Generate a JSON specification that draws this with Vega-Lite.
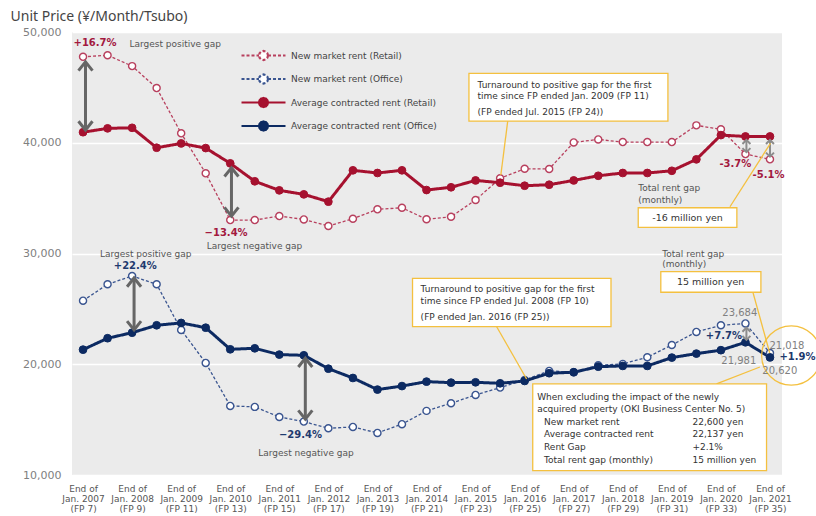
{
  "$schema": "https://vega.github.io/schema/vega-lite/v6.json",
  "width": 710,
  "height": 443,
  "autosize": {"type": "none"},
  "padding": {"left": 72, "top": 32, "right": 34, "bottom": 41},
  "background": "white",
  "config": {
    "font": "DejaVu Sans",
    "view": {"fill": "#ebebeb", "stroke": null},
    "axis": {"domain": false, "ticks": false}
  },
  "datasets": {
    "rent": [
      {"fp":7,"series":"New market rent (Retail)","value":47760},{"fp":8,"series":"New market rent (Retail)","value":47900},{"fp":9,"series":"New market rent (Retail)","value":46920},{"fp":10,"series":"New market rent (Retail)","value":44940},{"fp":11,"series":"New market rent (Retail)","value":40850},{"fp":12,"series":"New market rent (Retail)","value":37240},{"fp":13,"series":"New market rent (Retail)","value":33020},{"fp":14,"series":"New market rent (Retail)","value":33020},{"fp":15,"series":"New market rent (Retail)","value":33380},{"fp":16,"series":"New market rent (Retail)","value":33080},{"fp":17,"series":"New market rent (Retail)","value":32480},{"fp":18,"series":"New market rent (Retail)","value":33140},{"fp":19,"series":"New market rent (Retail)","value":33990},{"fp":20,"series":"New market rent (Retail)","value":34130},{"fp":21,"series":"New market rent (Retail)","value":33090},{"fp":22,"series":"New market rent (Retail)","value":33320},{"fp":23,"series":"New market rent (Retail)","value":34830},{"fp":24,"series":"New market rent (Retail)","value":36790},{"fp":25,"series":"New market rent (Retail)","value":37650},{"fp":26,"series":"New market rent (Retail)","value":37630},{"fp":27,"series":"New market rent (Retail)","value":40030},{"fp":28,"series":"New market rent (Retail)","value":40300},{"fp":29,"series":"New market rent (Retail)","value":40060},{"fp":30,"series":"New market rent (Retail)","value":40060},{"fp":31,"series":"New market rent (Retail)","value":40060},{"fp":32,"series":"New market rent (Retail)","value":41570},{"fp":33,"series":"New market rent (Retail)","value":41210},{"fp":34,"series":"New market rent (Retail)","value":38980},{"fp":35,"series":"New market rent (Retail)","value":38500},
      {"fp":7,"series":"New market rent (Office)","value":25740},{"fp":8,"series":"New market rent (Office)","value":27220},{"fp":9,"series":"New market rent (Office)","value":27970},{"fp":10,"series":"New market rent (Office)","value":27220},{"fp":11,"series":"New market rent (Office)","value":23100},{"fp":12,"series":"New market rent (Office)","value":20120},{"fp":13,"series":"New market rent (Office)","value":16240},{"fp":14,"series":"New market rent (Office)","value":16150},{"fp":15,"series":"New market rent (Office)","value":15240},{"fp":16,"series":"New market rent (Office)","value":14820},{"fp":17,"series":"New market rent (Office)","value":14220},{"fp":18,"series":"New market rent (Office)","value":14340},{"fp":19,"series":"New market rent (Office)","value":13800},{"fp":20,"series":"New market rent (Office)","value":14590},{"fp":21,"series":"New market rent (Office)","value":15790},{"fp":22,"series":"New market rent (Office)","value":16480},{"fp":23,"series":"New market rent (Office)","value":17230},{"fp":24,"series":"New market rent (Office)","value":17890},{"fp":25,"series":"New market rent (Office)","value":18580},{"fp":26,"series":"New market rent (Office)","value":19400},{"fp":27,"series":"New market rent (Office)","value":19280},{"fp":28,"series":"New market rent (Office)","value":19910},{"fp":29,"series":"New market rent (Office)","value":20030},{"fp":30,"series":"New market rent (Office)","value":20630},{"fp":31,"series":"New market rent (Office)","value":21740},{"fp":32,"series":"New market rent (Office)","value":22920},{"fp":33,"series":"New market rent (Office)","value":23520},{"fp":34,"series":"New market rent (Office)","value":23684},{"fp":35,"series":"New market rent (Office)","value":21018},
      {"fp":7,"series":"Average contracted rent (Retail)","value":40950},{"fp":8,"series":"Average contracted rent (Retail)","value":41300},{"fp":9,"series":"Average contracted rent (Retail)","value":41350},{"fp":10,"series":"Average contracted rent (Retail)","value":39550},{"fp":11,"series":"Average contracted rent (Retail)","value":39940},{"fp":12,"series":"Average contracted rent (Retail)","value":39520},{"fp":13,"series":"Average contracted rent (Retail)","value":38140},{"fp":14,"series":"Average contracted rent (Retail)","value":36520},{"fp":15,"series":"Average contracted rent (Retail)","value":35700},{"fp":16,"series":"Average contracted rent (Retail)","value":35340},{"fp":17,"series":"Average contracted rent (Retail)","value":34680},{"fp":18,"series":"Average contracted rent (Retail)","value":37510},{"fp":19,"series":"Average contracted rent (Retail)","value":37270},{"fp":20,"series":"Average contracted rent (Retail)","value":37510},{"fp":21,"series":"Average contracted rent (Retail)","value":35730},{"fp":22,"series":"Average contracted rent (Retail)","value":35980},{"fp":23,"series":"Average contracted rent (Retail)","value":36600},{"fp":24,"series":"Average contracted rent (Retail)","value":36390},{"fp":25,"series":"Average contracted rent (Retail)","value":36120},{"fp":26,"series":"Average contracted rent (Retail)","value":36210},{"fp":27,"series":"Average contracted rent (Retail)","value":36600},{"fp":28,"series":"Average contracted rent (Retail)","value":37020},{"fp":29,"series":"Average contracted rent (Retail)","value":37270},{"fp":30,"series":"Average contracted rent (Retail)","value":37270},{"fp":31,"series":"Average contracted rent (Retail)","value":37470},{"fp":32,"series":"Average contracted rent (Retail)","value":38500},{"fp":33,"series":"Average contracted rent (Retail)","value":40690},{"fp":34,"series":"Average contracted rent (Retail)","value":40570},{"fp":35,"series":"Average contracted rent (Retail)","value":40570},
      {"fp":7,"series":"Average contracted rent (Office)","value":21320},{"fp":8,"series":"Average contracted rent (Office)","value":22350},{"fp":9,"series":"Average contracted rent (Office)","value":22850},{"fp":10,"series":"Average contracted rent (Office)","value":23520},{"fp":11,"series":"Average contracted rent (Office)","value":23730},{"fp":12,"series":"Average contracted rent (Office)","value":23300},{"fp":13,"series":"Average contracted rent (Office)","value":21350},{"fp":14,"series":"Average contracted rent (Office)","value":21440},{"fp":15,"series":"Average contracted rent (Office)","value":20870},{"fp":16,"series":"Average contracted rent (Office)","value":20810},{"fp":17,"series":"Average contracted rent (Office)","value":19600},{"fp":18,"series":"Average contracted rent (Office)","value":18760},{"fp":19,"series":"Average contracted rent (Office)","value":17710},{"fp":20,"series":"Average contracted rent (Office)","value":18030},{"fp":21,"series":"Average contracted rent (Office)","value":18430},{"fp":22,"series":"Average contracted rent (Office)","value":18340},{"fp":23,"series":"Average contracted rent (Office)","value":18370},{"fp":24,"series":"Average contracted rent (Office)","value":18280},{"fp":25,"series":"Average contracted rent (Office)","value":18490},{"fp":26,"series":"Average contracted rent (Office)","value":19190},{"fp":27,"series":"Average contracted rent (Office)","value":19280},{"fp":28,"series":"Average contracted rent (Office)","value":19780},{"fp":29,"series":"Average contracted rent (Office)","value":19850},{"fp":30,"series":"Average contracted rent (Office)","value":19850},{"fp":31,"series":"Average contracted rent (Office)","value":20600},{"fp":32,"series":"Average contracted rent (Office)","value":20960},{"fp":33,"series":"Average contracted rent (Office)","value":21270},{"fp":34,"series":"Average contracted rent (Office)","value":21981},{"fp":35,"series":"Average contracted rent (Office)","value":20620}
    ],
    "arrowsBig": [
      {"fp":7.1,"top":47300,"bot":41150},{"fp":13.05,"top":37740,"bot":33380},{"fp":9.08,"top":27790,"bot":23100},{"fp":16.06,"top":20540,"bot":15040}
    ],
    "arrowsSmall": [
      {"fp":34.04,"top":40250,"bot":39150},{"fp":35.0,"top":40250,"bot":38750},{"fp":34.04,"top":23300,"bot":22200}
    ],
    "boxes": [
      {"x1":22.73,"x2":30.84,"y1":46260,"y2":41960},
      {"x1":29.63,"x2":33.65,"y1":34130,"y2":32360},
      {"x1":20.43,"x2":28.52,"y1":27760,"y2":23390},
      {"x1":30.55,"x2":34.63,"y1":28360,"y2":26500},
      {"x1":25.33,"x2":34.86,"y1":18220,"y2":10400}
    ],
    "leaders": [
      {"x1":24.31,"x2":24.03,"y1":41960,"y2":37090},
      {"x1":33.37,"x2":35.02,"y1":34220,"y2":39950},
      {"x1":23.86,"x2":25.08,"y1":23390,"y2":18670},
      {"x1":34.30,"x2":34.99,"y1":26530,"y2":21020},
      {"x1":32.82,"x2":34.59,"y1":18220,"y2":19750}
    ],
    "pctRed": [
      {"fp":7.49,"v":48970,"t":"+16.7%"},{"fp":12.83,"v":31880,"t":"−13.4%"},{"fp":33.59,"v":38050,"t":"-3.7%"},{"fp":34.94,"v":37060,"t":"-5.1%"}
    ],
    "pctNavy": [
      {"fp":9.13,"v":28870,"t":"+22.4%"},{"fp":15.86,"v":13590,"t":"−29.4%"},{"fp":33.12,"v":22580,"t":"+7.7%"},{"fp":36.12,"v":20690,"t":"+1.9%"}
    ],
    "notes": [
      {"fp":8.89,"v":48880,"t":"Largest positive gap"},
      {"fp":12.04,"v":30680,"t":"Largest negative gap"},
      {"fp":7.69,"v":29960,"t":"Largest positive gap"},
      {"fp":14.14,"v":12020,"t":"Largest negative gap"},
      {"fp":29.63,"v":35880,"t":"Total rent gap"},
      {"fp":29.63,"v":34830,"t":"(monthly)"},
      {"fp":30.61,"v":29950,"t":"Total rent gap"},
      {"fp":30.61,"v":29050,"t":"(monthly)"}
    ],
    "nums": [
      {"fp":33.77,"v":24600,"t":"23,684"},{"fp":35.69,"v":21680,"t":"21,018"},{"fp":33.73,"v":20300,"t":"21,981"},{"fp":35.40,"v":19400,"t":"20,620"}
    ],
    "boxTextLeft": [
      {"fp":23.08,"v":45210,"t":"Turnaround to positive gap for the first"},
      {"fp":23.08,"v":44240,"t":"time since FP ended Jan. 2009 (FP 11)"},
      {"fp":23.08,"v":42740,"t":"(FP ended Jul. 2015 (FP 24))"},
      {"fp":20.76,"v":26770,"t":"Turnaround to positive gap for the first"},
      {"fp":20.76,"v":25740,"t":"time since FP ended Jul. 2008 (FP 10)"},
      {"fp":20.76,"v":24300,"t":"(FP ended Jan. 2016 (FP 25))"},
      {"fp":25.51,"v":17060,"t":"When excluding the impact of the newly"},
      {"fp":25.51,"v":15970,"t":"acquired property (OKI Business Center No. 5)"},
      {"fp":25.79,"v":14790,"t":"New market rent"},
      {"fp":25.79,"v":13710,"t":"Average contracted rent"},
      {"fp":25.79,"v":12560,"t":"Rent Gap"},
      {"fp":25.79,"v":11370,"t":"Total rent gap (monthly)"},
      {"fp":31.84,"v":14790,"t":"22,600 yen"},
      {"fp":31.84,"v":13710,"t":"22,137 yen"},
      {"fp":31.84,"v":12560,"t":"+2.1%"},
      {"fp":31.84,"v":11370,"t":"15 million yen"}
    ],
    "boxTextCenter": [
      {"fp":31.64,"v":33250,"t":"-16 million yen"},
      {"fp":32.58,"v":27400,"t":"15 million yen"}
    ],
    "ring": [{"fp":35.87,"v":20790}]
  },
  "layer": [
    {
      "data": {"name": "rent"},
      "transform": [{"filter": "indexof(datum.series, 'New') === 0"}],
      "mark": {"type": "line", "strokeWidth": 1.3},
      "encoding": {
        "x": {"field": "fp", "type": "quantitative", "scale": {"domain": [6.55, 35.49], "nice": false, "zero": false},
          "axis": {"values": [7,9,11,13,15,17,19,21,23,25,27,29,31,33,35], "title": null, "grid": false,
            "labelExpr": "['End of', 'Jan. ' + (2007 + (datum.value - 7) / 2), '(FP ' + datum.value + ')']",
            "labelFontSize": 9, "labelColor": "#555555", "labelLineHeight": 10, "labelPadding": 9,
            "labelOverlap": false, "labelFlush": false, "labelBound": false}},
        "y": {"field": "value", "type": "quantitative", "scale": {"domain": [10000, 50000], "nice": false, "zero": false},
          "axis": {"values": [10000,20000,30000,40000,50000], "labelExpr": "format(datum.value, ',')", "grid": true, "gridColor": "white", "gridWidth": 1.5,
            "labelFontSize": 11, "labelColor": "#808080", "labelPadding": 11, "labelOverlap": false, "labelFlush": false,
            "title": "Unit Price (¥/Month/Tsubo)", "titleAngle": 0, "titleAlign": "left", "titleBaseline": "middle",
            "titleX": -62, "titleY": -16, "titleFont": "Noto Sans", "titleFontSize": 14, "titleFontWeight": "normal", "titleColor": "#444444"}},
        "stroke": {"field": "series", "type": "nominal",
          "scale": {"domain": ["New market rent (Retail)", "New market rent (Office)", "Average contracted rent (Retail)", "Average contracted rent (Office)"],
                    "range": ["#b8405e", "#3a5590", "#a6112f", "#0c2a62"]},
          "legend": {"orient": "none", "legendX": 185, "legendY": 17, "title": null, "direction": "vertical",
            "symbolType": "M-4.4,0L-0.9,0M0.9,0L4.4,0M0.9,0L0.78,0.45L0.45,0.78L0,0.9L-0.45,0.78L-0.78,0.45L-0.9,0L-0.78,-0.45L-0.45,-0.78L0,-0.9L0.45,-0.78L0.78,-0.45Z",
            "symbolSize": 100, "symbolStrokeWidth": 2.2, "labelOffset": 21,
            "labelFontSize": 9, "labelColor": "#444444", "rowPadding": 4.5, "padding": 0}
        },
        "strokeDash": {"field": "series", "type": "nominal",
          "scale": {"domain": ["New market rent (Retail)", "New market rent (Office)", "Average contracted rent (Retail)", "Average contracted rent (Office)"],
                    "range": [[3, 2], [3, 2], [1, 0], [1, 0]]}}
      }
    },
    {
      "data": {"name": "rent"},
      "transform": [{"filter": "indexof(datum.series, 'Average') === 0"}],
      "mark": {"type": "line", "strokeWidth": 3},
      "encoding": {
        "x": {"field": "fp", "type": "quantitative"},
        "y": {"field": "value", "type": "quantitative"},
        "stroke": {"field": "series", "type": "nominal"},
        "strokeDash": {"field": "series", "type": "nominal"}
      }
    },
    {
      "data": {"name": "rent"},
      "transform": [{"filter": "indexof(datum.series, 'New') === 0"}],
      "mark": {"type": "point", "filled": true, "fill": "white", "size": 50, "strokeWidth": 1.4, "opacity": 1},
      "encoding": {
        "x": {"field": "fp", "type": "quantitative"},
        "y": {"field": "value", "type": "quantitative"},
        "stroke": {"field": "series", "type": "nominal"}
      }
    },
    {
      "data": {"name": "rent"},
      "transform": [{"filter": "indexof(datum.series, 'Average') === 0"}],
      "mark": {"type": "point", "filled": true, "size": 60, "strokeWidth": 1, "opacity": 1},
      "encoding": {
        "x": {"field": "fp", "type": "quantitative"},
        "y": {"field": "value", "type": "quantitative"},
        "stroke": {"field": "series", "type": "nominal"},
        "fill": {"field": "series", "type": "nominal",
          "scale": {"domain": ["New market rent (Retail)", "New market rent (Office)", "Average contracted rent (Retail)", "Average contracted rent (Office)"],
                    "range": ["white", "white", "#a6112f", "#0c2a62"]}}
      }
    },
    {
      "data": {"name": "arrowsBig"},
      "mark": {"type": "rule", "stroke": "#666666", "strokeWidth": 3},
      "encoding": {
        "x": {"field": "fp", "type": "quantitative"},
        "y": {"field": "top", "type": "quantitative"},
        "y2": {"field": "bot"}
      }
    },
    {
      "data": {"name": "arrowsBig"},
      "mark": {"type": "point", "shape": "M-1,1.25L0,0L1,1.25", "size": 196, "filled": false, "stroke": "#666666", "strokeWidth": 3, "opacity": 1},
      "encoding": {
        "x": {"field": "fp", "type": "quantitative"},
        "y": {"field": "top", "type": "quantitative"}
      }
    },
    {
      "data": {"name": "arrowsBig"},
      "mark": {"type": "point", "shape": "M-1,-1.25L0,0L1,-1.25", "size": 196, "filled": false, "stroke": "#666666", "strokeWidth": 3, "opacity": 1},
      "encoding": {
        "x": {"field": "fp", "type": "quantitative"},
        "y": {"field": "bot", "type": "quantitative"}
      }
    },
    {
      "data": {"name": "arrowsSmall"},
      "mark": {"type": "rule", "stroke": "#8c8c8c", "strokeWidth": 2},
      "encoding": {
        "x": {"field": "fp", "type": "quantitative"},
        "y": {"field": "top", "type": "quantitative"},
        "y2": {"field": "bot"}
      }
    },
    {
      "data": {"name": "arrowsSmall"},
      "mark": {"type": "point", "shape": "M-1,1L0,0L1,1", "size": 64, "filled": false, "stroke": "#8c8c8c", "strokeWidth": 2, "opacity": 1},
      "encoding": {
        "x": {"field": "fp", "type": "quantitative"},
        "y": {"field": "top", "type": "quantitative"}
      }
    },
    {
      "data": {"name": "arrowsSmall"},
      "mark": {"type": "point", "shape": "M-1,-1L0,0L1,-1", "size": 64, "filled": false, "stroke": "#8c8c8c", "strokeWidth": 2, "opacity": 1},
      "encoding": {
        "x": {"field": "fp", "type": "quantitative"},
        "y": {"field": "bot", "type": "quantitative"}
      }
    },
    {
      "data": {"name": "leaders"},
      "mark": {"type": "rule", "stroke": "#f4c03f", "strokeWidth": 1.3},
      "encoding": {
        "x": {"field": "x1", "type": "quantitative"},
        "x2": {"field": "x2"},
        "y": {"field": "y1", "type": "quantitative"},
        "y2": {"field": "y2"}
      }
    },
    {
      "data": {"name": "ring"},
      "mark": {"type": "point", "shape": "circle", "size": 3526, "filled": false, "stroke": "#f4c03f", "strokeWidth": 1.3, "opacity": 1},
      "encoding": {
        "x": {"field": "fp", "type": "quantitative"},
        "y": {"field": "v", "type": "quantitative"}
      }
    },
    {
      "data": {"name": "boxes"},
      "mark": {"type": "rect", "fill": "white", "stroke": "#f4c03f", "strokeWidth": 1.3},
      "encoding": {
        "x": {"field": "x1", "type": "quantitative"},
        "x2": {"field": "x2"},
        "y": {"field": "y1", "type": "quantitative"},
        "y2": {"field": "y2"}
      }
    },
    {
      "data": {"name": "pctRed"},
      "mark": {"type": "text", "font": "DejaVu Sans", "fontSize": 10, "fontWeight": "bold", "color": "#a3193f", "align": "center", "baseline": "middle"},
      "encoding": {
        "x": {"field": "fp", "type": "quantitative"},
        "y": {"field": "v", "type": "quantitative"},
        "text": {"field": "t"}
      }
    },
    {
      "data": {"name": "pctNavy"},
      "mark": {"type": "text", "font": "DejaVu Sans", "fontSize": 10, "fontWeight": "bold", "color": "#1f3a6e", "align": "center", "baseline": "middle"},
      "encoding": {
        "x": {"field": "fp", "type": "quantitative"},
        "y": {"field": "v", "type": "quantitative"},
        "text": {"field": "t"}
      }
    },
    {
      "data": {"name": "notes"},
      "mark": {"type": "text", "font": "DejaVu Sans", "fontSize": 9, "color": "#555555", "align": "left", "baseline": "middle"},
      "encoding": {
        "x": {"field": "fp", "type": "quantitative"},
        "y": {"field": "v", "type": "quantitative"},
        "text": {"field": "t"}
      }
    },
    {
      "data": {"name": "nums"},
      "mark": {"type": "text", "font": "DejaVu Sans", "fontSize": 10, "color": "#808080", "align": "center", "baseline": "middle"},
      "encoding": {
        "x": {"field": "fp", "type": "quantitative"},
        "y": {"field": "v", "type": "quantitative"},
        "text": {"field": "t"}
      }
    },
    {
      "data": {"name": "boxTextLeft"},
      "mark": {"type": "text", "font": "DejaVu Sans", "fontSize": 9, "color": "#333333", "align": "left", "baseline": "middle"},
      "encoding": {
        "x": {"field": "fp", "type": "quantitative"},
        "y": {"field": "v", "type": "quantitative"},
        "text": {"field": "t"}
      }
    },
    {
      "data": {"name": "boxTextCenter"},
      "mark": {"type": "text", "font": "DejaVu Sans", "fontSize": 9.5, "color": "#333333", "align": "center", "baseline": "middle"},
      "encoding": {
        "x": {"field": "fp", "type": "quantitative"},
        "y": {"field": "v", "type": "quantitative"},
        "text": {"field": "t"}
      }
    }
  ]
}
